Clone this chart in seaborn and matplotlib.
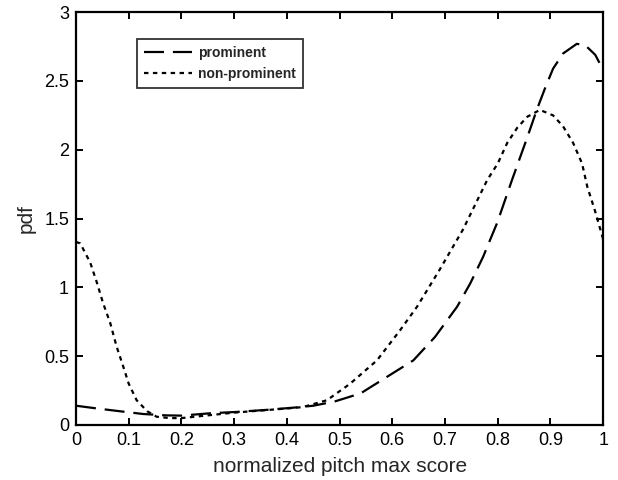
import numpy as np
import pandas as pd
import matplotlib
matplotlib.use("Agg")
import matplotlib.pyplot as plt
import seaborn as sns

# Estimated probability density of the normalized pitch max score
prominent_x = [0.0, 0.04, 0.083, 0.127, 0.17, 0.2, 0.254, 0.305, 0.362, 0.425, 0.45,
               0.49, 0.54, 0.59, 0.64, 0.681, 0.723, 0.748, 0.772, 0.799, 0.827,
               0.856, 0.875, 0.89, 0.905, 0.924, 0.95, 0.966, 0.985, 1.0]
prominent_y = [0.14, 0.12, 0.10, 0.08, 0.07, 0.068, 0.085, 0.095, 0.11, 0.13, 0.14,
               0.17, 0.23, 0.35, 0.47, 0.64, 0.86, 1.03, 1.22, 1.47, 1.78,
               2.09, 2.30, 2.45, 2.59, 2.70, 2.77, 2.76, 2.69, 2.58]

nonprominent_x = [0.0, 0.008, 0.027, 0.04, 0.051, 0.065, 0.077, 0.09, 0.10, 0.115,
                  0.135, 0.153, 0.178, 0.2, 0.25, 0.3, 0.4, 0.43, 0.476, 0.52,
                  0.571, 0.615, 0.647, 0.69, 0.734, 0.78, 0.8, 0.818, 0.837, 0.856,
                  0.88, 0.905, 0.924, 0.943, 0.96, 0.97, 0.985, 1.0]
nonprominent_y = [1.33, 1.32, 1.18, 1.03, 0.89, 0.74, 0.57, 0.42, 0.30, 0.18,
                  0.10, 0.06, 0.05, 0.05, 0.07, 0.09, 0.12, 0.13, 0.18, 0.30,
                  0.47, 0.69, 0.86, 1.13, 1.42, 1.78, 1.90, 2.05, 2.16, 2.24,
                  2.29, 2.25, 2.17, 2.05, 1.90, 1.73, 1.55, 1.35]

x_ticks = [0, 0.1, 0.2, 0.3, 0.4, 0.5, 0.6, 0.7, 0.8, 0.9, 1]
x_tick_labels = ["0", "0.1", "0.2", "0.3", "0.4", "0.5", "0.6", "0.7", "0.8", "0.9", "1"]
y_ticks = [0, 0.5, 1, 1.5, 2, 2.5, 3]
y_tick_labels = ["0", "0.5", "1", "1.5", "2", "2.5", "3"]

df = pd.concat([
    pd.DataFrame({"score": prominent_x, "pdf": prominent_y, "class": "prominent"}),
    pd.DataFrame({"score": nonprominent_x, "pdf": nonprominent_y, "class": "non-prominent"}),
], ignore_index=True)

sns.set_style("ticks")
plt.rcParams["font.family"] = ["Liberation Sans", "DejaVu Sans"]

fig = plt.figure(figsize=(6.18, 4.8), dpi=100)
ax = fig.add_axes([0.123, 0.1146, 0.853, 0.86])

sns.lineplot(data=df, x="score", y="pdf", hue="class", style="class",
             palette={"prominent": "black", "non-prominent": "black"},
             dashes={"prominent": (9, 4), "non-prominent": (2, 2)},
             linewidth=1.6, sort=False, estimator=None, ax=ax)

ax.set_xlim(0, 1)
ax.set_ylim(0, 3)
ax.set_xticks(x_ticks)
ax.set_xticklabels(x_tick_labels)
ax.set_yticks(y_ticks)
ax.set_yticklabels(y_tick_labels)
ax.tick_params(direction="in", length=5, width=1.4, top=True, right=True,
               labelsize=13, colors="black", pad=5)
for s in ax.spines.values():
    s.set_visible(True)
    s.set_linewidth(1.6)
    s.set_color("black")

ax.set_xlabel("normalized pitch max score", fontsize=15, labelpad=6)
ax.set_ylabel("pdf", fontsize=15, labelpad=6)

leg = ax.legend(title=None, loc="upper left", bbox_to_anchor=(0.102, 0.951),
                fontsize=10, frameon=True, fancybox=False, edgecolor="black",
                handlelength=3.5, borderpad=0.5, labelspacing=0.5, handletextpad=0.4)
leg.get_frame().set_linewidth(1.3)
for t in leg.get_texts():
    t.set_fontweight("bold")

fig.savefig("out.png", dpi=100)
